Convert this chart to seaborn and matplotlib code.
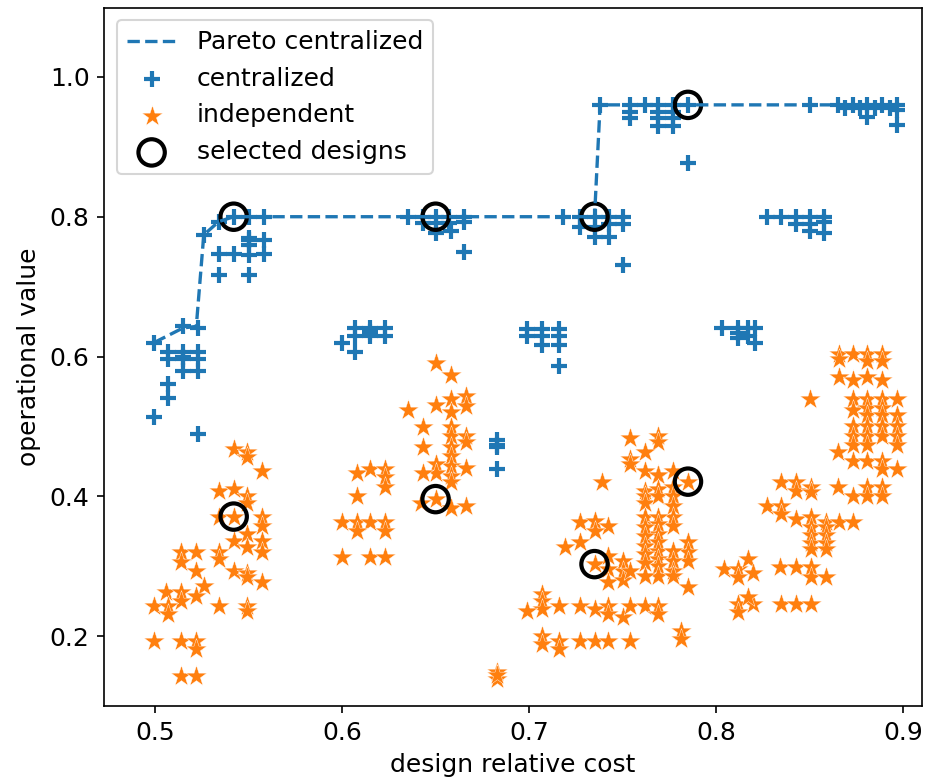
import matplotlib
matplotlib.use("Agg")
import matplotlib.pyplot as plt
import seaborn as sns
import numpy as np

# Pareto front of centralized designs
pareto_x = [0.4995, 0.515, 0.522, 0.526, 0.534, 0.542, 0.735, 0.738, 0.897]
pareto_y = [0.620, 0.641, 0.643, 0.774, 0.793, 0.800, 0.800, 0.960, 0.960]

# centralized designs
cent_x = [
    0.4995, 0.515, 0.523, 0.507, 0.515, 0.523, 0.507, 0.515, 0.523, 0.515, 0.515, 0.523, 0.507, 0.507, 0.4995, 0.523,
    0.526, 0.534, 0.542, 0.550, 0.558, 0.550, 0.558, 0.550, 0.534, 0.542, 0.550, 0.558, 0.534, 0.550, 0.550,
    0.635, 0.643, 0.650, 0.657, 0.665, 0.643, 0.650, 0.657, 0.665, 0.650, 0.658, 0.665,
    0.600, 0.607, 0.615, 0.623, 0.607, 0.615, 0.623, 0.607, 0.615,
    0.683, 0.683, 0.683, 0.683,
    0.738, 0.754, 0.762, 0.769, 0.777, 0.785, 0.754, 0.754, 0.769, 0.777, 0.769, 0.777, 0.769, 0.777, 0.785,
    0.718, 0.727, 0.735, 0.743, 0.750, 0.727, 0.735, 0.743, 0.750, 0.735, 0.743, 0.750,
    0.699, 0.707, 0.716, 0.699, 0.707, 0.716, 0.707, 0.716, 0.716,
    0.803, 0.812, 0.817, 0.821, 0.812, 0.817, 0.821, 0.812,
    0.850, 0.865, 0.873, 0.881, 0.889, 0.897, 0.869, 0.877, 0.885, 0.893, 0.881, 0.897, 0.897,
    0.827, 0.835, 0.843, 0.850, 0.858, 0.843, 0.850, 0.858, 0.850, 0.858,
]
cent_y = [
    0.620, 0.644, 0.641, 0.607, 0.607, 0.607, 0.596, 0.596, 0.596, 0.600, 0.579, 0.579, 0.560, 0.541, 0.513, 0.489,
    0.774, 0.793, 0.800, 0.800, 0.800, 0.767, 0.767, 0.770, 0.747, 0.747, 0.745, 0.747, 0.717, 0.717, 0.760,
    0.800, 0.800, 0.800, 0.800, 0.800, 0.791, 0.791, 0.791, 0.793, 0.777, 0.779, 0.750,
    0.620, 0.641, 0.641, 0.641, 0.629, 0.629, 0.629, 0.607, 0.635,
    0.481, 0.474, 0.471, 0.439,
    0.960, 0.960, 0.960, 0.960, 0.960, 0.960, 0.950, 0.941, 0.950, 0.950, 0.941, 0.941, 0.930, 0.930, 0.877,
    0.800, 0.800, 0.800, 0.800, 0.800, 0.786, 0.786, 0.789, 0.789, 0.771, 0.771, 0.731,
    0.639, 0.639, 0.639, 0.629, 0.629, 0.629, 0.617, 0.617, 0.586,
    0.641, 0.641, 0.641, 0.641, 0.627, 0.630, 0.620, 0.634,
    0.960, 0.960, 0.960, 0.960, 0.960, 0.960, 0.955, 0.955, 0.955, 0.955, 0.943, 0.952, 0.931,
    0.800, 0.800, 0.800, 0.800, 0.800, 0.790, 0.790, 0.793, 0.780, 0.776,
]

# independent designs
ind_x = [
    0.542, 0.549, 0.549, 0.557, 0.534, 0.542, 0.549, 0.549, 0.534, 0.542, 0.557, 0.557,
    0.542, 0.549, 0.549, 0.557, 0.557, 0.534, 0.534, 0.514, 0.522, 0.514, 0.522,
    0.542, 0.549, 0.549, 0.557, 0.526, 0.506, 0.514, 0.522, 0.514, 0.4995, 0.507, 0.507,
    0.534, 0.549, 0.549, 0.4995, 0.514, 0.522, 0.522, 0.514, 0.522,
    0.650, 0.658, 0.635, 0.650, 0.658, 0.658, 0.666, 0.666, 0.643, 0.643,
    0.658, 0.658, 0.658, 0.658, 0.658, 0.658, 0.666, 0.666,
    0.650, 0.650, 0.643, 0.666, 0.658, 0.650, 0.642, 0.658, 0.666,
    0.608, 0.615, 0.623, 0.623, 0.623, 0.608,
    0.600, 0.608, 0.615, 0.623, 0.608, 0.623, 0.600, 0.615, 0.623,
    0.683, 0.683, 0.683,
    0.754, 0.769, 0.769, 0.762, 0.754, 0.754, 0.762, 0.769, 0.777, 0.785, 0.739,
    0.762, 0.762, 0.762, 0.762, 0.769, 0.769, 0.769,
    0.777, 0.777, 0.777, 0.777, 0.777, 0.769, 0.769, 0.769, 0.762, 0.762, 0.762,
    0.785, 0.785, 0.785, 0.769, 0.769, 0.769, 0.769, 0.769, 0.777, 0.777, 0.777, 0.777,
    0.762, 0.762, 0.762, 0.785,
    0.727, 0.735, 0.742, 0.735, 0.727, 0.719, 0.735,
    0.742, 0.750, 0.750, 0.742, 0.742, 0.750, 0.754,
    0.707, 0.707, 0.707, 0.699, 0.716, 0.727, 0.735, 0.742, 0.742, 0.750,
    0.754, 0.762, 0.769, 0.769, 0.707, 0.707, 0.716, 0.716,
    0.727, 0.735, 0.742, 0.754, 0.781, 0.781,
    0.866, 0.873, 0.881, 0.889, 0.881, 0.889, 0.866, 0.866, 0.873, 0.881, 0.889, 0.850,
    0.873, 0.873, 0.873, 0.873, 0.873,
    0.881, 0.881, 0.881, 0.881, 0.881, 0.881,
    0.889, 0.889, 0.889, 0.889, 0.889,
    0.897, 0.897, 0.897, 0.897, 0.897,
    0.865, 0.873, 0.881, 0.889, 0.889, 0.897,
    0.865, 0.873, 0.881, 0.881, 0.889, 0.889,
    0.835, 0.843, 0.851, 0.843, 0.851, 0.827, 0.835, 0.835,
    0.843, 0.851, 0.859, 0.866, 0.873,
    0.851, 0.851, 0.851, 0.851, 0.859, 0.859, 0.859, 0.859,
    0.804, 0.812, 0.812, 0.817, 0.820, 0.834, 0.843, 0.851, 0.851, 0.859,
    0.812, 0.820, 0.812, 0.817, 0.835, 0.843, 0.851,
]
ind_y = [
    0.467, 0.464, 0.456, 0.436, 0.407, 0.410, 0.400, 0.391, 0.371, 0.371, 0.371, 0.357,
    0.336, 0.346, 0.327, 0.336, 0.321, 0.321, 0.310, 0.320, 0.320, 0.306, 0.293,
    0.293, 0.291, 0.284, 0.277, 0.271, 0.263, 0.263, 0.257, 0.250, 0.243, 0.243, 0.231,
    0.243, 0.243, 0.236, 0.193, 0.193, 0.193, 0.181, 0.143, 0.143,
    0.591, 0.574, 0.524, 0.531, 0.539, 0.521, 0.543, 0.529, 0.499, 0.471,
    0.499, 0.486, 0.471, 0.457, 0.443, 0.429, 0.486, 0.477,
    0.446, 0.434, 0.434, 0.441, 0.421, 0.396, 0.391, 0.384, 0.386,
    0.434, 0.439, 0.439, 0.427, 0.414, 0.400,
    0.363, 0.363, 0.363, 0.363, 0.350, 0.350, 0.313, 0.313, 0.313,
    0.149, 0.139, 0.145,
    0.484, 0.486, 0.477, 0.464, 0.453, 0.446, 0.436, 0.431, 0.436, 0.421, 0.421,
    0.407, 0.400, 0.390, 0.371, 0.430, 0.410, 0.400,
    0.414, 0.400, 0.386, 0.371, 0.357, 0.371, 0.360, 0.346, 0.356, 0.343, 0.329,
    0.334, 0.320, 0.307, 0.334, 0.322, 0.310, 0.300, 0.286, 0.322, 0.307, 0.293, 0.286,
    0.318, 0.304, 0.286, 0.270,
    0.363, 0.364, 0.357, 0.350, 0.334, 0.327, 0.303,
    0.314, 0.307, 0.293, 0.296, 0.277, 0.281, 0.293,
    0.260, 0.250, 0.239, 0.236, 0.243, 0.243, 0.239, 0.243, 0.231, 0.227,
    0.243, 0.243, 0.243, 0.231, 0.200, 0.189, 0.193, 0.181,
    0.193, 0.193, 0.193, 0.193, 0.207, 0.196,
    0.603, 0.603, 0.603, 0.603, 0.593, 0.593, 0.596, 0.570, 0.567, 0.571, 0.567, 0.539,
    0.539, 0.524, 0.500, 0.486, 0.474,
    0.539, 0.527, 0.516, 0.500, 0.486, 0.474,
    0.539, 0.527, 0.516, 0.500, 0.486,
    0.539, 0.516, 0.500, 0.486, 0.474,
    0.463, 0.450, 0.450, 0.450, 0.439, 0.439,
    0.413, 0.400, 0.413, 0.400, 0.413, 0.400,
    0.420, 0.420, 0.414, 0.407, 0.406, 0.386, 0.386, 0.374,
    0.367, 0.370, 0.363, 0.363, 0.363,
    0.356, 0.344, 0.333, 0.324, 0.356, 0.344, 0.333, 0.324,
    0.296, 0.296, 0.284, 0.310, 0.291, 0.299, 0.299, 0.299, 0.284, 0.284,
    0.246, 0.246, 0.234, 0.256, 0.246, 0.246, 0.246,
]

# selected designs
sel_x = [0.542, 0.650, 0.735, 0.785, 0.542, 0.650, 0.735, 0.785]
sel_y = [0.800, 0.800, 0.800, 0.960, 0.371, 0.396, 0.303, 0.421]

fig = plt.figure(figsize=(938 / 150, 783 / 150), dpi=150)
ax = fig.add_axes([0.111, 0.0983, 0.872, 0.8915])

blue = "#1f77b4"
orange = "#ff7f0e"

sns.lineplot(x=pareto_x, y=pareto_y, sort=False, estimator=None, ax=ax,
             color=blue, linestyle="--", linewidth=1.6, label="Pareto centralized")
sns.scatterplot(x=cent_x, y=cent_y, marker="+", s=60, color=blue, linewidth=2,
                ax=ax, label="centralized")
sns.scatterplot(x=ind_x, y=ind_y, marker="*", s=110, color=orange, edgecolor="white",
                linewidth=0.2, ax=ax, label="independent")
sns.scatterplot(x=sel_x, y=sel_y, marker="o", s=160, facecolor="none", edgecolor="black",
                linewidth=2, ax=ax, label="selected designs")

ax.set_xlim(0.4727, 0.9102)
ax.set_ylim(0.1, 1.0986)
ax.set_xticks([0.5, 0.6, 0.7, 0.8, 0.9])
ax.set_yticks([0.2, 0.4, 0.6, 0.8, 1.0])
ax.set_xlabel("design relative cost", fontsize=12)
ax.set_ylabel("operational value", fontsize=12)
ax.tick_params(labelsize=12)
ax.legend(loc="upper left", fontsize=12)

fig.savefig("out.png", dpi=150)
